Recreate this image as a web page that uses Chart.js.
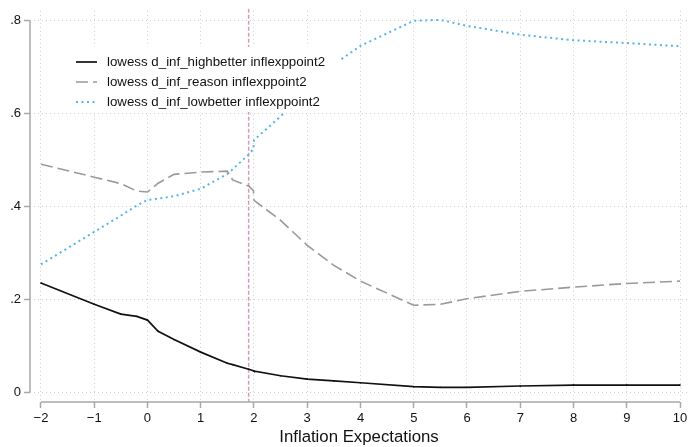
<!DOCTYPE html>
<html>
<head>
<meta charset="utf-8">
<script src="https://cdn.jsdelivr.net/npm/chart.js@4/dist/chart.umd.min.js"></script>
<style>
  body { margin: 0; background: #fff; }
  #wrap { width: 692px; height: 447px; }
</style>
</head>
<body>
<div id="wrap"><canvas id="chart" width="692" height="447"></canvas></div>
<script>
// lowess curves, one value per x knot
var xs = [-2, -1, -0.5, -0.2, 0, 0.2, 0.5, 1, 1.5, 1.6, 1.9, 1.99, 2, 2.5, 3, 3.5, 4, 5, 5.5, 6, 7, 8, 9, 10];
var highbetter = [0.235, 0.189, 0.168, 0.163, 0.155, 0.131, 0.113, 0.086, 0.062, 0.059, 0.049, 0.046, 0.045, 0.035, 0.028, 0.024, 0.020, 0.0115, 0.010, 0.010, 0.013, 0.015, 0.015, 0.015];
var reason = [0.491, 0.463, 0.449, 0.433, 0.431, 0.450, 0.469, 0.474, 0.476, 0.457, 0.444, 0.434, 0.413, 0.370, 0.316, 0.273, 0.239, 0.187, 0.189, 0.201, 0.217, 0.226, 0.234, 0.239];
var lowbetter = [0.275, 0.345, 0.380, 0.402, 0.414, 0.417, 0.422, 0.438, 0.470, 0.480, 0.512, 0.524, 0.543, 0.594, 0.652, 0.706, 0.746, 0.800, 0.802, 0.789, 0.770, 0.758, 0.752, 0.745];

var seriesNames = ['lowess d_inf_highbetter inflexppoint2', 'lowess d_inf_reason inflexppoint2', 'lowess d_inf_lowbetter inflexppoint2'];
var xTicks = [-2, -1, 0, 1, 2, 3, 4, 5, 6, 7, 8, 9, 10];
var xTickLabels = ['\u22122', '\u22121', '0', '1', '2', '3', '4', '5', '6', '7', '8', '9', '10'];
var yTicks = [0, 0.2, 0.4, 0.6, 0.8];
var yTickLabels = ['0', '.2', '.4', '.6', '.8'];
var refLineX = 1.9;
var xTitle = 'Inflation Expectations';

var FONT = '"Liberation Sans", Arial, Helvetica, sans-serif';
var AXIS_COLOR = '#a8a8a8';
var GRID_COLOR = '#d0d0d0';

function pts(ys) {
  return xs.map(function(x, i) { return { x: x, y: ys[i] }; });
}

var styles = [
  { color: '#111111', dash: [], width: 1.7 },
  { color: '#9a9a9a', dash: [12, 5], width: 1.6 },
  { color: '#56B4E9', dash: [2, 3.5], width: 2 }
];

var datasets = [highbetter, reason, lowbetter].map(function(ys, i) {
  return {
    label: seriesNames[i],
    data: pts(ys),
    borderColor: styles[i].color,
    borderDash: styles[i].dash,
    borderWidth: styles[i].width,
    pointRadius: i === 0 ? 1 : 0,
    pointStyle: 'rect',
    pointBackgroundColor: styles[i].color,
    pointBorderWidth: 0,
    tension: 0,
    fill: false
  };
});

// axis lines only span the tick range, like the Stata original
var axisLines = {
  id: 'axisLines',
  beforeDatasetsDraw: function(chart) {
    var c = chart.ctx, a = chart.chartArea;
    var sx = chart.scales.x, sy = chart.scales.y;
    c.save();
    // reference line
    var rx = sx.getPixelForValue(refLineX);
    c.strokeStyle = 'rgba(204,121,167,0.75)';
    c.lineWidth = 1.5;
    c.setLineDash([4, 2]);
    c.beginPath();
    c.moveTo(rx, a.top - 2);
    c.lineTo(rx, a.bottom);
    c.stroke();
    c.setLineDash([]);
    c.strokeStyle = AXIS_COLOR;
    c.lineWidth = 1.5;
    c.beginPath();
    c.moveTo(sx.getPixelForValue(xTicks[0]), a.bottom);
    c.lineTo(sx.getPixelForValue(xTicks[xTicks.length - 1]), a.bottom);
    c.moveTo(a.left, sy.getPixelForValue(yTicks[0]));
    c.lineTo(a.left, sy.getPixelForValue(yTicks[yTicks.length - 1]));
    c.stroke();
    c.restore();
  }
};

// legend sits inside the plot on a white box that hides what is behind
var boxLegend = {
  id: 'boxLegend',
  afterDatasetsDraw: function(chart) {
    var c = chart.ctx;
    c.save();
    c.fillStyle = '#fff';
    c.fillRect(65, 47, 276, 65);
    c.font = '13.3px ' + FONT;
    c.textBaseline = 'middle';
    for (var i = 0; i < seriesNames.length; i++) {
      var y = 62 + i * 20;
      c.strokeStyle = styles[i].color;
      c.lineWidth = styles[i].width;
      c.setLineDash(styles[i].dash);
      c.beginPath();
      c.moveTo(76, y);
      c.lineTo(97, y);
      c.stroke();
      c.setLineDash([]);
      c.fillStyle = '#111';
      c.fillText(seriesNames[i], 107, y);
    }
    c.restore();
  }
};

new Chart(document.getElementById('chart'), {
  type: 'line',
  data: { datasets: datasets },
  options: {
    responsive: false,
    animation: false,
    layout: { padding: { top: 10, right: 2, left: 0, bottom: 0 } },
    plugins: {
      legend: { display: false },
      tooltip: { enabled: false }
    },
    scales: {
      x: {
        type: 'linear',
        min: -2.206,
        max: 10.15,
        afterBuildTicks: function(s) { s.ticks = xTicks.map(function(v) { return { value: v }; }); },
        afterFit: function(s) { s.height = 45; },
        ticks: {
          padding: 3,
          color: '#111',
          font: { family: FONT, size: 13 },
          maxRotation: 0,
          autoSkip: false,
          callback: function(v) { return xTickLabels[xTicks.indexOf(v)]; }
        },
        grid: {
          color: GRID_COLOR,
          lineWidth: 1,
          drawTicks: true,
          tickLength: 6,
          tickColor: AXIS_COLOR,
          tickWidth: 1.5,
          tickBorderDash: []
        },
        border: { display: false, dash: [1, 3] },
        title: {
          display: true,
          text: xTitle,
          color: '#111',
          font: { family: FONT, size: 16.8 },
          padding: { top: 0, bottom: 0 }
        }
      },
      y: {
        type: 'linear',
        min: -0.0215,
        max: 0.8215,
        afterBuildTicks: function(s) { s.ticks = yTicks.map(function(v) { return { value: v }; }); },
        afterFit: function(s) { s.width = 30; },
        ticks: {
          padding: 3,
          color: '#111',
          font: { family: FONT, size: 13 },
          autoSkip: false,
          callback: function(v) {
            var k = yTicks.findIndex(function(t) { return Math.abs(t - v) < 1e-9; });
            return yTickLabels[k];
          }
        },
        grid: {
          color: GRID_COLOR,
          lineWidth: 1,
          drawTicks: true,
          tickLength: 6,
          tickColor: AXIS_COLOR,
          tickWidth: 1.5,
          tickBorderDash: []
        },
        border: { display: false, dash: [1, 3] }
      }
    }
  },
  plugins: [axisLines, boxLegend]
});
</script>
</body>
</html>
